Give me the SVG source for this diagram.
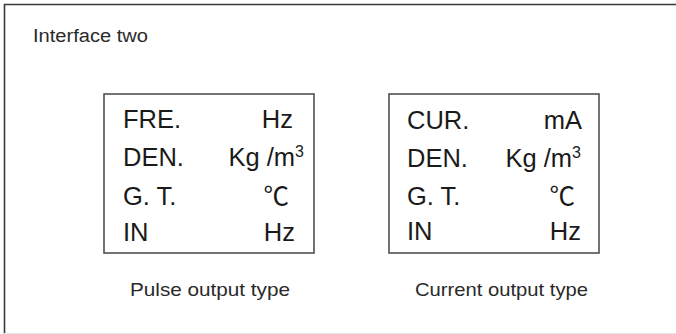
<svg xmlns="http://www.w3.org/2000/svg" width="676" height="334" viewBox="0 0 676 334">
<style>
.frame{stroke:#3a3a3a;stroke-width:1.6;fill:none}
.box{fill:#fff;stroke:#505050;stroke-width:1.6}
.big{font-family:"Liberation Sans",Arial,"Noto Sans CJK SC",sans-serif;font-size:25.5px;fill:#1a1a1a}
.r{text-anchor:end}
.cap{font-family:"Liberation Sans",Arial,sans-serif;font-size:19px;fill:#2a2a2a}
.title{font-family:"Liberation Sans",Arial,sans-serif;font-size:18px;fill:#2a2a2a}
</style>
<rect width="676" height="334" fill="#fff"/>
<g id="frame">
<path class="frame" d="M4.5,334 V4.5 H676"/>
<line x1="4" y1="333.5" x2="676" y2="333.5" stroke="#e6e6e6" stroke-width="1"/>
<text class="title" x="33" y="41.5" textLength="115" lengthAdjust="spacingAndGlyphs">Interface two</text>
</g>
<g id="pulse">
<rect class="box" x="104" y="94" width="210" height="159"/>
<text class="big" x="123" y="128">FRE.</text>
<text class="big r" x="293" y="128">Hz</text>
<text class="big" x="123" y="166">DEN.</text>
<text class="big r" x="304" y="166">Kg /m<tspan font-size="16" dy="-9">3</tspan></text>
<text class="big" x="123" y="205">G. T.</text>
<text class="big r" x="289" y="205">℃</text>
<text class="big" x="123" y="241">IN</text>
<text class="big r" x="295" y="241">Hz</text>
<text class="cap" x="130" y="296" textLength="160" lengthAdjust="spacingAndGlyphs">Pulse output type</text>
</g>
<g id="current">
<rect class="box" x="389" y="94" width="210" height="159"/>
<text class="big" x="407" y="129">CUR.</text>
<text class="big r" x="582" y="129">mA</text>
<text class="big" x="407" y="167">DEN.</text>
<text class="big r" x="581" y="167">Kg /m<tspan font-size="16" dy="-9">3</tspan></text>
<text class="big" x="407" y="205">G. T.</text>
<text class="big r" x="575" y="205">℃</text>
<text class="big" x="407" y="240">IN</text>
<text class="big r" x="581" y="240">Hz</text>
<text class="cap" x="415" y="296" textLength="173" lengthAdjust="spacingAndGlyphs">Current output type</text>
</g>
<g id="connectors"/>
</svg>
